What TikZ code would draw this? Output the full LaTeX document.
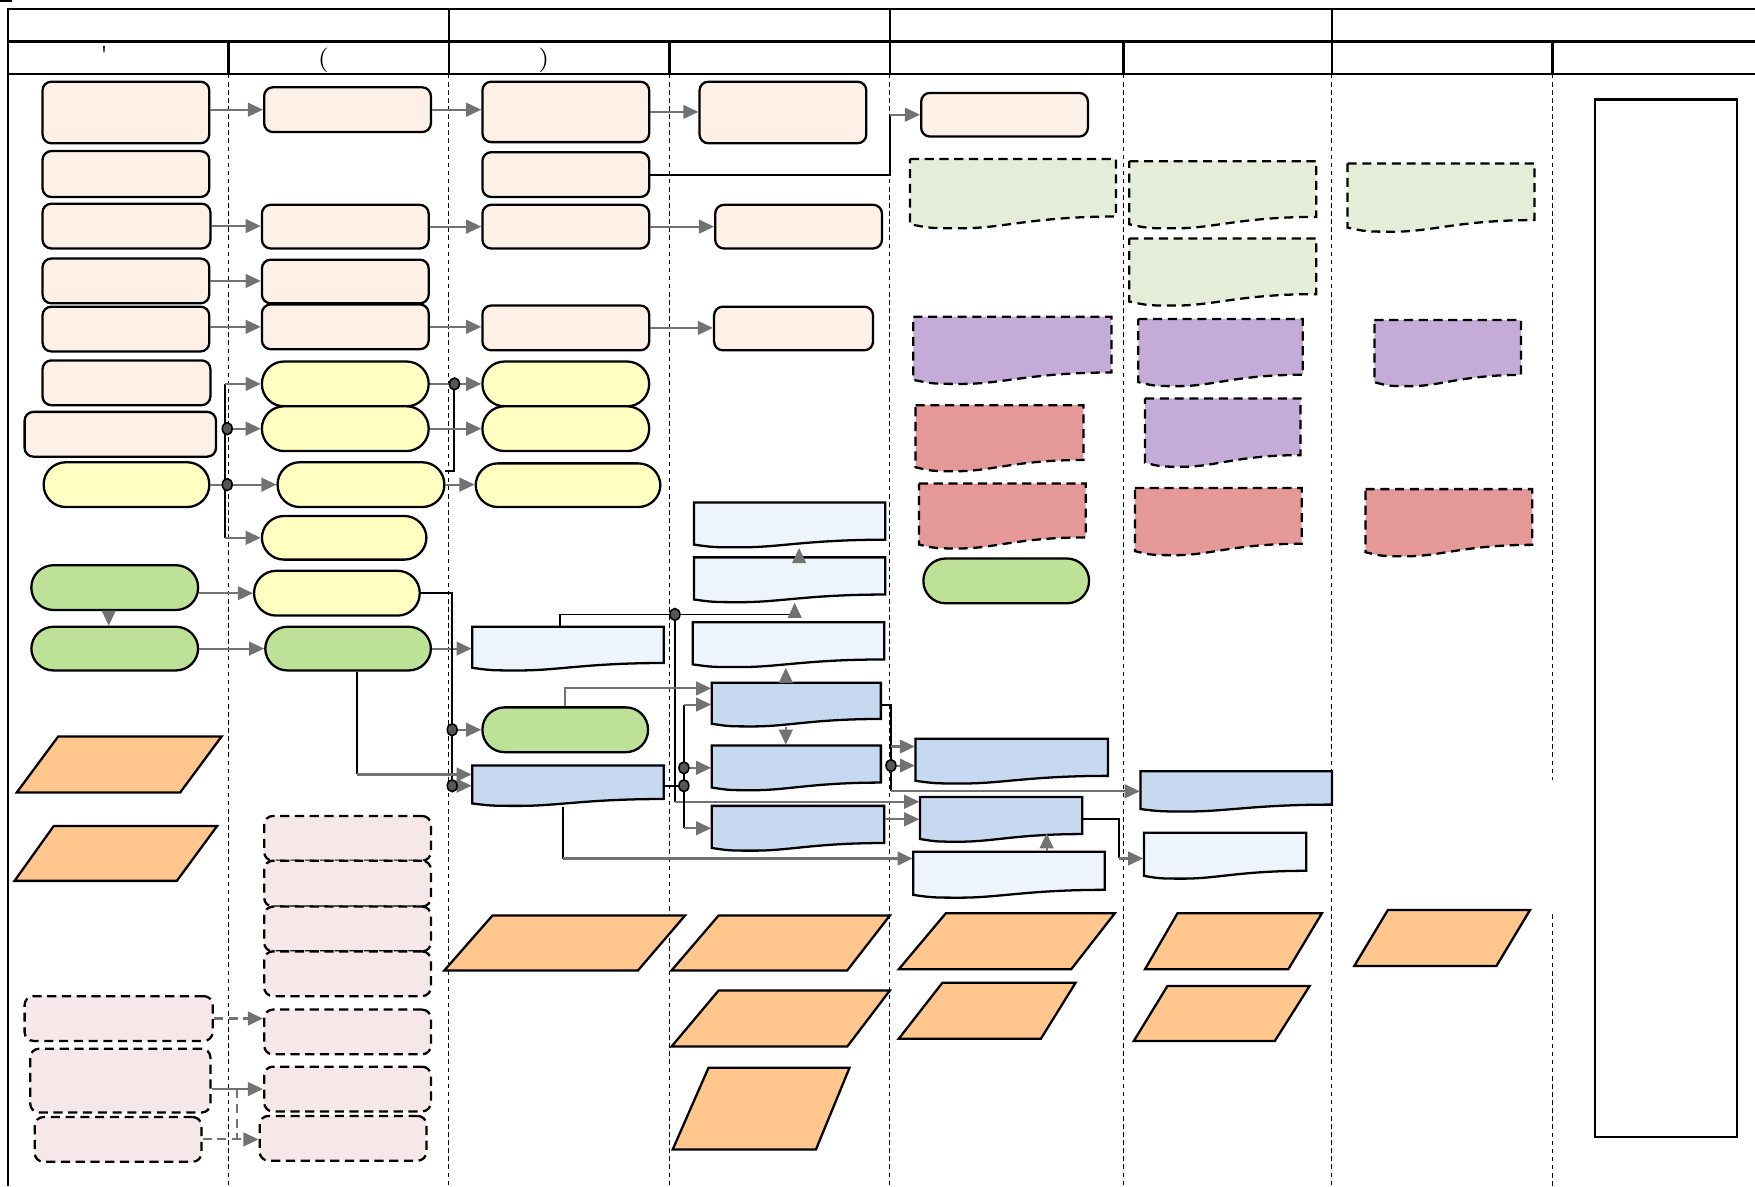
\documentclass[tikz,border=0pt]{standalone}
\usetikzlibrary{arrows.meta,fit,shapes.geometric}

\definecolor{peche}{HTML}{FDF0E7}
\definecolor{jaune}{HTML}{FFFFC2}
\definecolor{vert}{HTML}{BDE196}
\definecolor{ocre}{HTML}{FFC68E}
\definecolor{rose}{HTML}{F6E8E8}
\definecolor{bleupale}{HTML}{EDF4FB}
\definecolor{bleu}{HTML}{C6D9F0}
\definecolor{vertpale}{HTML}{E4EDD8}
\definecolor{mauve}{HTML}{C5ABD8}
\definecolor{rouge}{HTML}{E59898}
\definecolor{gris}{HTML}{727272}

\tikzset{
  boite/.style={rectangle, draw, line width=0.65pt, inner sep=0pt},
  tache/.style={boite, fill=peche, rounded corners=2.5pt},
  ovale/.style={boite, fill=#1, rounded corners=6.3pt},
  ovale/.default=jaune,
  pointille/.style={dash pattern=on 2.6pt off 1.6pt},
  annexe/.style={boite, pointille, fill=rose, rounded corners=2.5pt},
  feuil/.style={draw, line width=0.65pt, fill=#1},
  feuilp/.style={feuil=#1, pointille},
  entree/.style={draw, line width=0.65pt, fill=ocre},
  fleche/.style={draw=gris, line width=0.6pt, -{Triangle[length=4.3pt, width=3.9pt]}},
  trait/.style={draw=black, line width=0.55pt},
  jonction/.style={ellipse, draw, line width=0.45pt, fill=gris!75!black, inner sep=0pt, minimum width=2.8pt, minimum height=3.4pt},
  cadre/.style={line width=0.75pt},
  couloir/.style={line width=0.3pt, dash pattern=on 1.3pt off 1pt},
  entete/.style={font=\fontsize{7}{8}\selectfont, inner sep=0pt},
}

% document a bord inferieur ondule : nom, style, x1, y1, x2, y2
\newcommand{\feuille}[6]{%
  \draw[#2] (#3,#4) -- (#5,#4) -- (#5,{#6-0.17*(#6-#4)})
    .. controls ({#3+0.6*(#5-#3)},{#6-0.17*(#6-#4)}) and ({#3+0.45*(#5-#3)},#6) .. ({#3+0.25*(#5-#3)},#6)
    .. controls ({#3+0.1*(#5-#3)},#6) .. (#3,{#6-0.06*(#6-#4)}) -- cycle;
  \node[fit={(#3,#4)(#5,#6)}, inner sep=0pt] (#1) {};}

% parallelogramme : bas-gauche, haut-gauche, x haut-droite, x bas-droite
\newcommand{\parallelo}[6]{%
  \draw[entree] (#1,#2) -- (#3,#4) -- (#5,#4) -- (#6,#2) -- cycle;}

\begin{document}
\begin{tikzpicture}[x=0.011193cm, y=-0.011193cm]
    \useasboundingbox (0,0) rectangle (1568,1060);

    % Tableau et couloirs
    \draw[line width=0.6pt] (0,1) -- (11,1);
    \draw[cadre] (7,1060) -- (7,8) -- (1568,8);
    \draw[cadre] (7,37) -- (1568,37);
    \draw[cadre] (7,66) -- (1568,66);
    \foreach \x in {401,795,1190}
        \draw[cadre] (\x,8) -- (\x,66);
    \foreach \x in {204,598,1004,1387}
        \draw[cadre] (\x,37) -- (\x,66);
    \foreach \x in {204,401,598,795,1004,1190}
        \draw[couloir] (\x,66) -- (\x,1060);
    \draw[couloir] (1387,66) -- (1387,697);
    \draw[couloir] (1387,817) -- (1387,1060);

    \node[entete] (h1) at (93,49) {\textquotesingle};
    \node[entete] (h2) at (289,54) {(};
    \node[entete] (h3) at (486,54) {)};

    % Couloir 1
    \node[tache, fit={(38,73)(187,128)}] (t1) {};
    \node[tache, fit={(38,135)(187,176)}] (t2) {};
    \node[tache, fit={(38,182)(188,222)}] (t3) {};
    \node[tache, fit={(38,231)(187,271)}] (t4) {};
    \node[tache, fit={(38,274)(187,314)}] (t5) {};
    \node[tache, fit={(38,322)(188,362)}] (t6) {};
    \node[tache, fit={(22,368)(193,408)}] (t7) {};
    \node[ovale, fit={(39,413)(187,453)}] (o1) {};
    \node[ovale=vert, fit={(28,505)(177,545)}] (v1) {};
    \node[ovale=vert, fit={(28,560)(177,599)}] (v2) {};
    \parallelo{15}{708}{52}{658}{198}{161}
    \parallelo{13}{787}{48}{738}{194}{158}
    \node[annexe, fit={(22,890)(190,930)}] (r1) {};
    \node[annexe, fit={(27,937)(188,994)}] (r2) {};
    \node[annexe, fit={(31,998)(180,1038)}] (r3) {};

    % Couloir 2
    \node[tache, fit={(236,78)(385,118)}] (t8) {};
    \node[tache, fit={(234,183)(383,222)}] (t9) {};
    \node[tache, fit={(234,232)(383,271)}] (t10) {};
    \node[tache, fit={(234,272)(383,312)}] (t11) {};
    \node[ovale, fit={(234,323)(383,363)}] (o2) {};
    \node[ovale, fit={(234,363)(383,403)}] (o3) {};
    \node[ovale, fit={(248,413)(397,453)}] (o4) {};
    \node[ovale, fit={(234,461)(381,500)}] (o5) {};
    \node[ovale, fit={(227,510)(375,550)}] (o6) {};
    \node[ovale=vert, fit={(237,560)(385,599)}] (v3) {};
    \node[annexe, fit={(236,729)(385,769)}] (r4) {};
    \node[annexe, fit={(236,769)(385,810)}] (r5) {};
    \node[annexe, fit={(236,810)(385,850)}] (r6) {};
    \node[annexe, fit={(236,850)(385,890)}] (r7) {};
    \node[annexe, fit={(236,902)(385,942)}] (r8) {};
    \node[annexe, fit={(236,953)(385,993)}] (r9) {};
    \node[annexe, fit={(232,997)(381,1037)}] (r10) {};

    % Couloir 3
    \node[tache, fit={(431,73)(580,127)}] (t12) {};
    \node[tache, fit={(431,136)(580,176)}] (t13) {};
    \node[tache, fit={(431,183)(580,222)}] (t14) {};
    \node[tache, fit={(431,273)(580,313)}] (t15) {};
    \node[ovale, fit={(431,323)(580,363)}] (o7) {};
    \node[ovale, fit={(431,363)(580,403)}] (o8) {};
    \node[ovale, fit={(425,414)(590,453)}] (o9) {};
    \feuille{f1}{feuil=bleupale}{422}{560}{593}{599}
    \node[ovale=vert, fit={(431,632)(579,672)}] (v4) {};
    \feuille{f2}{feuil=bleu}{422}{684}{593}{720}
    \parallelo{397}{867}{440}{818}{612}{570}

    % Couloir 4
    \node[tache, fit={(625,73)(774,128)}] (t16) {};
    \node[tache, fit={(639,183)(788,222)}] (t17) {};
    \node[tache, fit={(638,274)(780,313)}] (t18) {};
    \feuille{f3}{feuil=bleupale}{620}{449}{791}{489}
    \feuille{f4}{feuil=bleupale}{620}{498}{791}{538}
    \feuille{f5}{feuil=bleupale}{619}{556}{790}{596}
    \feuille{f6}{feuil=bleu}{636}{610}{787}{649}
    \feuille{f7}{feuil=bleu}{636}{666}{787}{706}
    \feuille{f8}{feuil=bleu}{636}{720}{790}{760}
    \parallelo{600}{867}{642}{818}{795}{757}
    \parallelo{600}{935}{642}{885}{795}{757}
    \parallelo{601}{1027}{633}{954}{759}{729}

    % Couloir 5
    \node[tache, fit={(823,83)(972,122)}] (t19) {};
    \feuille{g1}{feuilp=vertpale}{813}{142}{997}{204}
    \feuille{p1}{feuilp=mauve}{816}{283}{993}{343}
    \feuille{k1}{feuilp=rouge}{818}{362}{968}{421}
    \feuille{k2}{feuilp=rouge}{821}{432}{970}{490}
    \node[ovale=vert, fit={(825,499)(973,539)}] (v5) {};
    \feuille{f9}{feuil=bleu}{818}{660}{990}{700}
    \feuille{f10}{feuil=bleu}{822}{712}{967}{752}
    \feuille{f11}{feuil=bleupale}{816}{761}{987}{802}
    \parallelo{803}{866}{845}{816}{996}{957}
    \parallelo{803}{928}{842}{878}{961}{930}

    % Couloir 6
    \feuille{g2}{feuilp=vertpale}{1009}{144}{1176}{204}
    \feuille{g3}{feuilp=vertpale}{1009}{213}{1176}{273}
    \feuille{p2}{feuilp=mauve}{1017}{285}{1164}{345}
    \feuille{p3}{feuilp=mauve}{1023}{356}{1162}{417}
    \feuille{k3}{feuilp=rouge}{1014}{436}{1163}{496}
    \feuille{f12}{feuil=bleu}{1019}{689}{1190}{725}
    \feuille{f13}{feuil=bleupale}{1022}{744}{1167}{785}
    \parallelo{1023}{866}{1052}{816}{1181}{1151}
    \parallelo{1013}{930}{1043}{881}{1170}{1139}

    % Couloir 7
    \feuille{g4}{feuilp=vertpale}{1204}{146}{1371}{207}
    \feuille{p4}{feuilp=mauve}{1228}{286}{1359}{345}
    \feuille{k4}{feuilp=rouge}{1220}{437}{1369}{497}
    \parallelo{1210}{863}{1240}{813}{1367}{1337}

    % Couloir 8
    \node[boite, fill=white, line width=0.7pt, fit={(1425,89)(1552,1016)}] (z) {};

    % Points de jonction
    \coordinate (c1) at ([yshift=3.2pt]f2.west);
    \coordinate (c2) at (710,549);
    \coordinate (c3) at ([yshift=5pt]f10.west);
    \coordinate (c4) at (796,667);
    \coordinate (c5) at ([yshift=4.6pt]f11.west);
    \coordinate (c6) at (1000,767);
    \coordinate (c7) at (795,102.5);
    \coordinate (c8) at (212,973);
    \coordinate (c9) at ([yshift=4.6pt]f6.west);

    % Fleches du haut
    \draw[fleche] (t8.west -| t1.east) -- (t8.west);
    \draw[fleche] (t8.east) -- (t8.east -| t12.west);
    \draw[fleche] (t12.east) -- (t12.east -| t16.west);
    \draw[trait] (t13.east) -| (c7);
    \draw[fleche] (c7) -- (c7 -| t19.west);
    \draw[fleche] (t3.east) -- (t3.east -| t9.west);
    \draw[fleche] (t9.east) -- (t9.east -| t14.west);
    \draw[fleche] (t14.east) -- (t14.east -| t17.west);
    \draw[fleche] (t4.east) -- (t4.east -| t10.west);
    \draw[fleche] (t11.west -| t5.east) -- (t11.west);
    \draw[fleche] (t11.east) -- (t11.east -| t15.west);
    \draw[fleche] (t15.east) -- (t15.east -| t18.west);

    % Branches des ovales
    \draw[trait] (o2.west -| 201,0) -- (o5.west -| 201,0);
    \draw[fleche] (o2.west -| 201,0) -- (o2.west);
    \draw[fleche] (o3.west -| 201,0) -- (o3.west);
    \draw[fleche] (o1.east) -- (o4.west);
    \draw[fleche] (o5.west -| 201,0) -- (o5.west);
    \draw[fleche] (o2.east) -- (o7.west);
    \draw[trait] ([yshift=4pt]o4.east) -| (406,343);
    \draw[fleche] (o3.east) -- (o8.west);
    \draw[fleche] (o4.east) -- (o4.east -| o9.west);
    \draw[fleche] (o6.west -| v1.east) -- (o6.west);
    \draw[fleche] ([xshift=-1.7pt]v1.south) -- ([xshift=-1.7pt]v2.north);
    \draw[fleche] (v2.east) -- (v2.east -| v3.west);
    \draw[fleche] (v3.east) -- (v3.east -| f1.west);

    % Documents du milieu
    \draw[trait] (o6.east) -| (404,702);
    \draw[fleche] (404,652) -- (v4.west);
    \draw[fleche] (404,702) -- (f2.west);
    \draw[trait] ([xshift=2.5pt]v3.south) -- ([xshift=2.5pt]v3.south |- c1);
    \draw[fleche] ([xshift=2.5pt]v3.south |- c1) -- (c1);
    \draw[trait] ([xshift=-2.2pt]f1.north) |- (c2);
    \draw[fleche] (c2) -- (c2 |- f4.south);
    \draw[fleche] ([xshift=2.7pt]f4.north) -- ([xshift=2.7pt]f4.north |- f3.south);
    \draw[trait] (603,549) -- (603,549 |- c3);
    \draw[fleche] (603,549 |- c3) -- (c3);
    \draw[fleche] (v4.north) |- (c9);
    \draw[trait] (f2.east) -- (611,702);
    \draw[trait] (611,0 |- f6.west) -- (611,0 |- f8.west);
    \draw[fleche] (611,0 |- f6.west) -- (f6.west);
    \draw[fleche] (611,686) -- (f7.west);
    \draw[fleche] (611,0 |- f8.west) -- (f8.west);
    \draw[fleche] ([xshift=-3pt]f6.south) -- ([xshift=-3pt]f7.north);
    \draw[fleche] ([xshift=-3pt]f6.north) -- ([xshift=-3pt]f6.north |- f5.south);
    \draw[trait] (f6.east) -| (796,0 |- f12.west);
    \draw[fleche] (796,0 |- f12.west) -- (f12.west);
    \draw[fleche] (c4) -- (c4 -| f9.west);
    \draw[fleche] (796,684) -- (796,684 -| f9.west);
    \draw[fleche] (f10.west -| f8.east) -- (f10.west);
    \draw[trait] ([xshift=-1.4pt]f2.south) -- ([xshift=-1.4pt]f2.south |- c5);
    \draw[fleche] ([xshift=-1.4pt]f2.south |- c5) -- (c5);
    \draw[fleche] ([xshift=10.7pt]f11.north) -- ++(0,-16);
    \draw[trait] (f10.east) -| (c6);
    \draw[fleche] (c6) -- (c6 -| f13.west);

    % Annexes en pointilles
    \draw[fleche, pointille] (r1.east) -- (r1.east -| r8.west);
    \draw[fleche] (r9.west -| r2.east) -- (r9.west);
    \draw[draw=gris, line width=0.6pt, pointille] (c8) -- (c8 |- r3.east);
    \draw[fleche, pointille] (r3.east) -- (r3.east -| r10.west);

    % Jonctions
    \node[jonction] (n1) at (203,383) {};
    \node[jonction] (n2) at (203,433) {};
    \node[jonction] (n3) at (406,343) {};
    \node[jonction] (n4) at (404,652) {};
    \node[jonction] (n5) at (404,702) {};
    \node[jonction] (n6) at (603,549) {};
    \node[jonction] (n7) at (611,686) {};
    \node[jonction] (n8) at (611,702) {};
    \node[jonction] (n9) at (796,684) {};

\end{tikzpicture}
\end{document}
